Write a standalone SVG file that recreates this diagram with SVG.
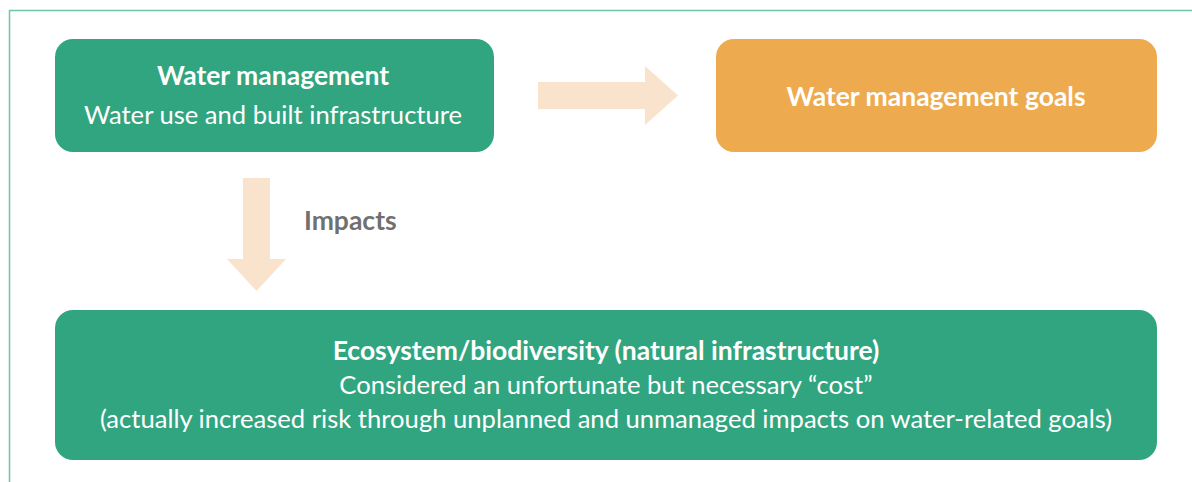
<svg xmlns="http://www.w3.org/2000/svg" width="1192" height="482" viewBox="0 0 1192 482">
<style>
.g{fill:#31a57f}
.o{fill:#eeaa4f}
.ar{fill:#fae3cc}
.t{font-family:Lato,"Noto Sans",sans-serif;font-size:25.6px;fill:#ffffff;text-anchor:middle}
.b{font-weight:bold;font-size:26.5px}
.lbl{font-family:Lato,"Noto Sans",sans-serif;font-size:26.5px;font-weight:bold;fill:#707070}
</style>
<rect width="1192" height="482" fill="#ffffff"/>
<path d="M9.5 482 V10.5 H1192" fill="none" stroke="#6cc7a3" stroke-width="1.5"/>
<g id="connectors">
<polygon class="ar" points="538,82 645,82 645,66 678,95.5 645,125 645,109 538,109"/>
<polygon class="ar" points="243,178 270,178 270,259 286,259 256.5,291 227,259 243,259"/>
<text class="lbl" x="304" y="230">Impacts</text>
</g>
<g id="water-management">
<rect class="g" x="55" y="39" width="439" height="113" rx="18"/>
<text class="t b" x="273" y="85">Water management</text>
<text class="t" x="273" y="124">Water use and built infrastructure</text>
</g>
<g id="goals">
<rect class="o" x="716" y="39" width="441" height="113" rx="18"/>
<text class="t b" x="936" y="106">Water management goals</text>
</g>
<g id="ecosystem">
<rect class="g" x="55" y="310" width="1102" height="150" rx="18"/>
<text class="t b" x="606" y="360">Ecosystem/biodiversity (natural infrastructure)</text>
<text class="t" x="606" y="394">Considered an unfortunate but necessary “cost”</text>
<text class="t" x="606" y="428">(actually increased risk through unplanned and unmanaged impacts on water-related goals)</text>
</g>
</svg>
